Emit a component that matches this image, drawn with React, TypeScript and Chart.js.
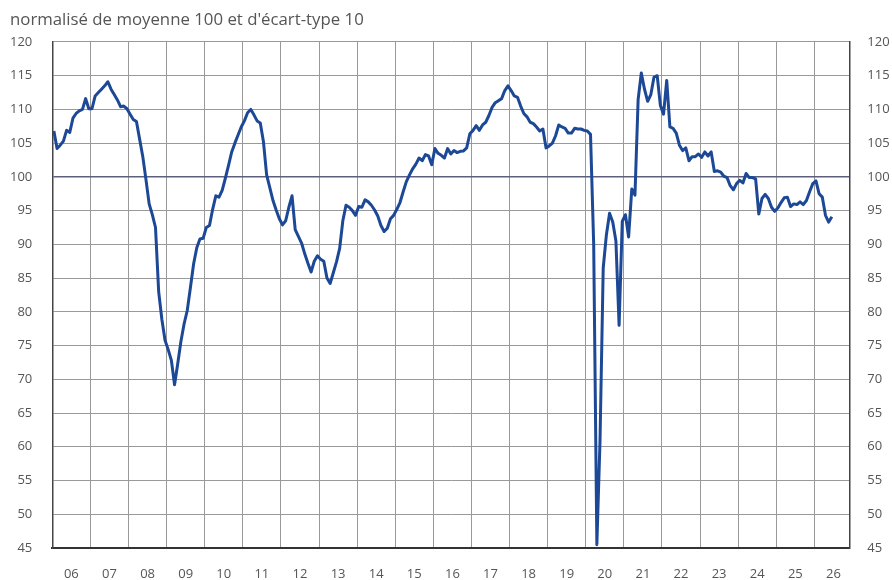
import React, { useEffect, useRef } from 'react';
import { Chart, registerables } from 'chart.js';

Chart.register(...registerables);

const chartTitle = "normalisé de moyenne 100 et d'écart-type 10";

const yearLabels = ['06', '07', '08', '09', '10', '11', '12', '13', '14', '15', '16', '17', '18', '19', '20', '21', '22', '23', '24', '25', '26'];

const yTickValues = [45, 50, 55, 60, 65, 70, 75, 80, 85, 90, 95, 100, 105, 110, 115, 120];

// monthly values, first point = January 2006
const climat = [
  106.8, 104.2, 104.7, 105.3, 106.9, 106.6, 108.7, 109.4, 109.8, 110.0, 111.6, 110.1,
  110.1, 112.0, 112.5, 113.0, 113.5, 114.1, 113.0, 112.2, 111.4, 110.4, 110.5, 110.1,
  109.3, 108.5, 108.2, 105.6, 103.0, 99.6, 96.0, 94.4, 92.5, 83.0, 78.9, 75.8,
  74.4, 72.8, 69.2, 72.3, 75.6, 78.2, 80.2, 83.6, 87.1, 89.5, 90.8, 90.9,
  92.5, 92.8, 95.2, 97.2, 97.0, 98.0, 99.8, 101.7, 103.7, 105.0, 106.2, 107.4,
  108.3, 109.5, 110.0, 109.2, 108.3, 108.0, 105.2, 100.3, 98.4, 96.5, 95.1, 93.8,
  92.9, 93.5, 95.5, 97.2, 92.2, 91.2, 90.2, 88.6, 87.2, 85.9, 87.5, 88.3,
  87.8, 87.5, 85.0, 84.2, 85.8, 87.4, 89.4, 93.5, 95.8, 95.5, 95.0, 94.3,
  95.6, 95.5, 96.6, 96.3, 95.8, 95.1, 94.2, 92.8, 91.9, 92.4, 93.8, 94.3,
  95.2, 96.2, 97.8, 99.3, 100.3, 101.2, 101.9, 102.8, 102.4, 103.3, 103.1, 101.8,
  104.2, 103.5, 103.2, 102.8, 104.2, 103.4, 103.9, 103.6, 103.8, 103.85, 104.3, 106.4,
  106.9, 107.6, 106.9, 107.7, 108.1, 109.1, 110.3, 111.0, 111.3, 111.6, 112.8, 113.5,
  112.8, 112.0, 111.8, 110.5, 109.4, 108.9, 108.1, 107.9, 107.4, 106.8, 107.1, 104.3,
  104.6, 105.0, 106.1, 107.7, 107.4, 107.2, 106.5, 106.5, 107.2, 107.1, 107.1, 106.9,
  106.8, 106.3, 90.0, 45.5, 61.0, 86.5, 91.4, 94.6, 93.3, 90.5, 78.0, 93.4,
  94.4, 91.1, 98.2, 97.3, 111.5, 115.4, 113.0, 111.2, 112.2, 114.8, 115.0, 110.6,
  109.3, 114.3, 107.4, 107.2, 106.5, 104.7, 103.9, 104.3, 102.4, 103.0, 103.0, 103.4,
  102.9, 103.7, 103.1, 103.7, 100.8, 100.9, 100.7, 100.1, 99.9, 98.7, 98.1, 99.0,
  99.5, 99.1, 100.5, 99.9, 99.9, 99.7, 94.5, 96.8, 97.4, 96.8, 95.5, 94.9,
  95.4, 96.2, 96.9, 97.0, 95.6, 96.0, 95.9, 96.3, 95.9, 96.5, 97.8, 99.0,
  99.4, 97.5, 97.0, 94.3, 93.3, 94.1,
];

const FONT = 'Open Sans';
const TEXT = '#555555';

export default function App() {
  const ref = useRef<HTMLCanvasElement>(null);

  useEffect(() => {
    document.body.style.margin = '0';
    const months = yearLabels.length * 12 - 1;
    const chart = new Chart(ref.current as HTMLCanvasElement, {
      type: 'line',
      data: {
        datasets: [
          {
            data: climat.map((v, i) => ({ x: i + 0.5, y: v })),
            borderColor: '#1c4896',
            borderWidth: 3,
            pointRadius: 0,
            tension: 0,
            fill: false,
            borderJoinStyle: 'round',
          },
        ],
      },
      options: {
        animation: false,
        responsive: false,
        maintainAspectRatio: false,
        layout: { padding: { left: 10, right: 0, top: 0, bottom: 0 } },
        plugins: {
          legend: { display: false },
          tooltip: { enabled: false },
          title: {
            display: true,
            text: chartTitle,
            align: 'start',
            color: TEXT,
            font: { family: FONT, size: 16.8, weight: 'normal' },
            padding: { top: 10, bottom: 11.8 },
          },
        },
        scales: {
          x: {
            type: 'linear',
            position: 'bottom',
            min: 0,
            max: months,
            afterBuildTicks: (s: any) => {
              s.ticks = yearLabels.map((_, i) => ({ value: i * 12 }));
            },
            afterFit: (s: any) => {
              s.height = 0;
            },
            grid: { color: '#999999', drawTicks: false, lineWidth: 1 },
            border: { color: '#333333', width: 2 },
            ticks: { display: false },
          },
          xl: {
            type: 'linear',
            position: 'bottom',
            min: 0,
            max: months,
            afterBuildTicks: (s: any) => {
              s.ticks = yearLabels.map((_, i) => ({ value: i * 12 + 6 }));
            },
            afterFit: (s: any) => {
              s.height = 32;
            },
            grid: { display: false, drawTicks: false },
            border: { display: false },
            ticks: {
              autoSkip: false,
              maxRotation: 0,
              padding: 18,
              color: TEXT,
              font: { family: FONT, size: 13 },
              callback: (v: any) => yearLabels[Math.round((Number(v) - 6) / 12)],
            },
          },
          y: {
            position: 'left',
            min: 45,
            max: 120,
            afterBuildTicks: (s: any) => {
              s.ticks = yTickValues.map((v) => ({ value: v }));
            },
            afterFit: (s: any) => {
              s.width = 42.3;
            },
            grid: {
              color: (c: any) => (c.tick && c.tick.value === 100 ? '#5e5e7e' : '#999999'),
              drawTicks: false,
              lineWidth: (c: any) => (c.tick && c.tick.value === 100 ? 1.5 : 1),
            },
            border: { color: '#444444', width: 1.5 },
            ticks: { padding: 20, color: TEXT, font: { family: FONT, size: 13 } },
          },
          y2: {
            position: 'right',
            min: 45,
            max: 120,
            afterBuildTicks: (s: any) => {
              s.ticks = yTickValues.map((v) => ({ value: v }));
            },
            afterFit: (s: any) => {
              s.width = 42.7;
            },
            grid: { display: false, drawTicks: false },
            border: { color: '#444444', width: 1.5 },
            ticks: { padding: 18, color: TEXT, font: { family: FONT, size: 13 } },
          },
        },
      },
    });
    return () => chart.destroy();
  }, []);

  return (
    <div style={{ width: 892, height: 580 }}>
      <canvas ref={ref} width={892} height={580} style={{ display: 'block', width: 892, height: 580 }} />
    </div>
  );
}
